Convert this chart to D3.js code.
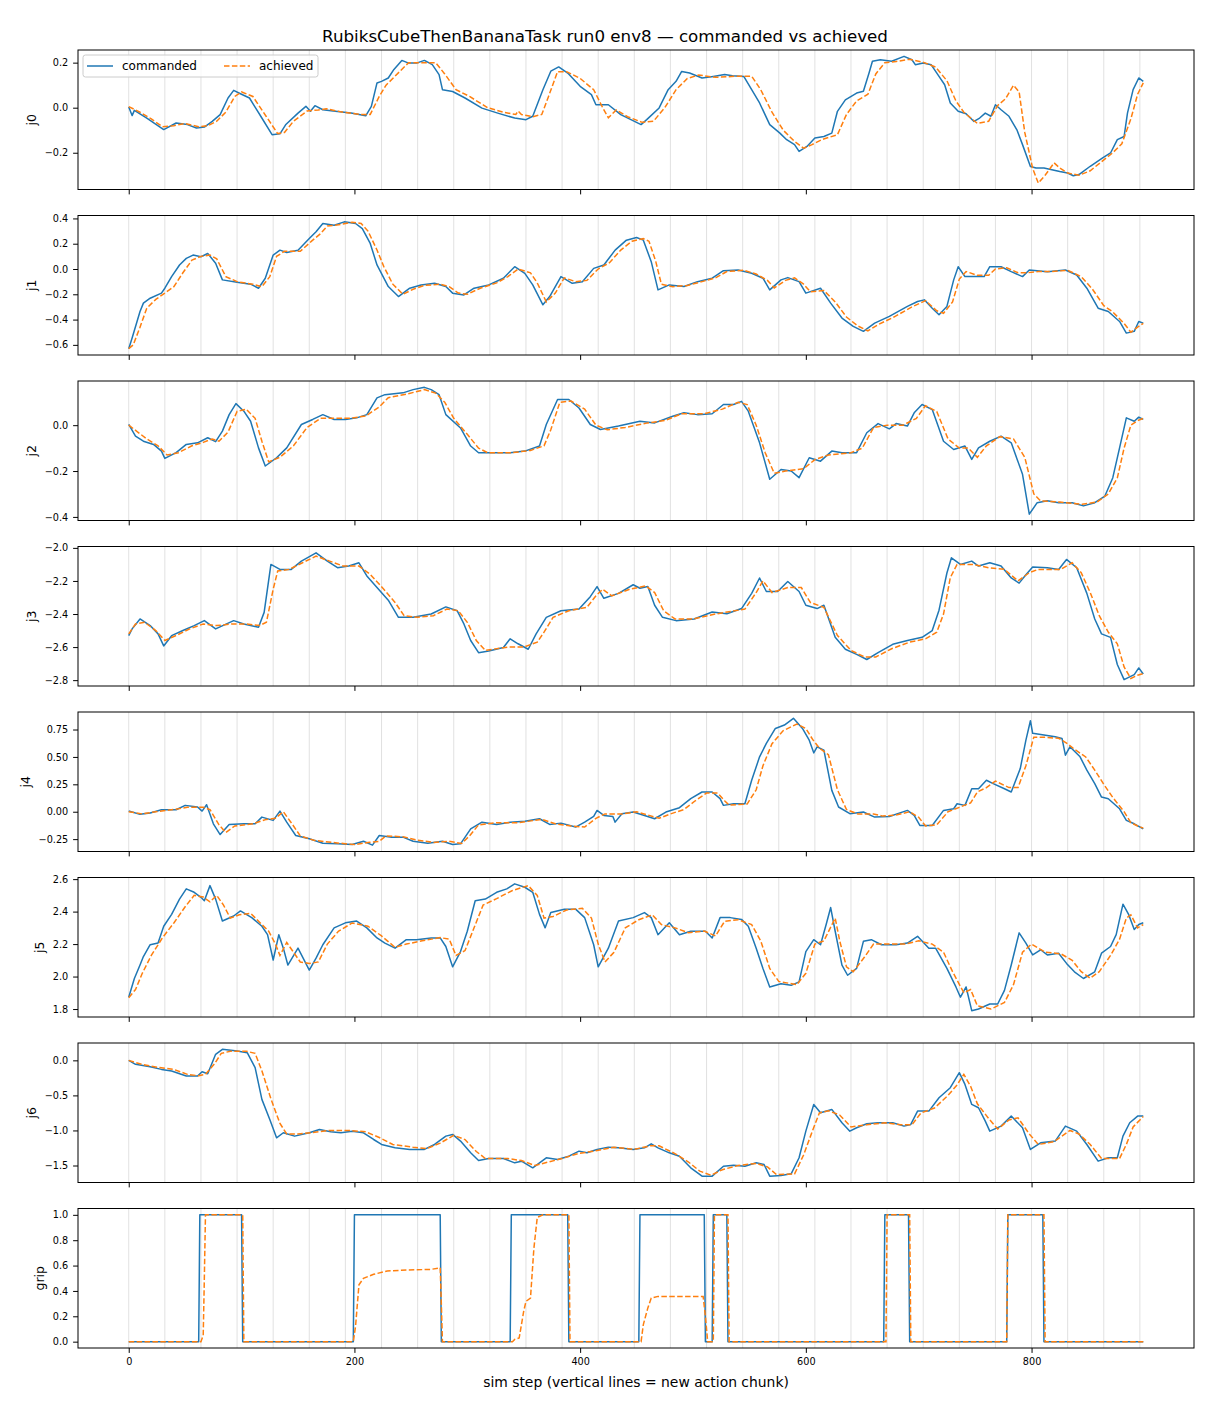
<!DOCTYPE html>
<html>
<head>
<meta charset="utf-8">
<script src="https://cdn.jsdelivr.net/npm/d3@7"></script>
<style>
  body { margin: 0; background: #fff; }
  text { font-family: "DejaVu Sans", sans-serif; }
</style>
</head>
<body>
<svg id="chart"></svg>
<script>
// values, [sim step, value]
const xTicks = [0, 200, 400, 600, 800]
const chunkStarts = [0,32,64,96,128,160,192,224,256,288,320,352,384,416,448,480,512,544,576,608,640,672,704,736,768,800,832,864,896]

const cmdJ0 = [[0,0.003],[3,-0.035],[5,-0.012],[16,-0.046],[31,-0.097],[42,-0.068],[52,-0.075],[60,-0.09],[67,-0.086],[74,-0.061],[81,-0.031],[88,0.043],[93,0.077],[99,0.062],[107,0.043],[117,-0.038],[127,-0.12],[134,-0.116],[139,-0.076],[150,-0.024],[157,0.006],[161,-0.016],[165,0.009],[172,-0.009],[183,-0.016],[197,-0.024],[210,-0.036],[215,0.006],[220,0.11],[224,0.117],[230,0.132],[235,0.17],[242,0.21],[248,0.198],[255,0.198],[262,0.21],[269,0.191],[275,0.147],[278,0.08],[287,0.072],[298,0.043],[313,-0.002],[327,-0.024],[342,-0.046],[352,-0.053],[358,-0.038],[367,0.08],[374,0.162],[381,0.181],[389,0.154],[400,0.095],[410,0.058],[414,0.013],[425,0.013],[436,-0.031],[454,-0.075],[459,-0.053],[470,-0.001],[478,0.08],[485,0.117],[490,0.161],[497,0.154],[508,0.132],[518,0.139],[528,0.147],[535,0.142],[545,0.139],[552,0.08],[559,0.021],[568,-0.075],[577,-0.113],[583,-0.142],[590,-0.164],[594,-0.194],[601,-0.172],[608,-0.135],[616,-0.128],[623,-0.113],[628,-0.016],[635,0.035],[645,0.065],[651,0.073],[656,0.154],[659,0.206],[666,0.213],[676,0.206],[687,0.228],[694,0.213],[697,0.191],[704,0.198],[711,0.191],[718,0.139],[723,0.102],[728,0.021],[735,-0.016],[742,-0.027],[749,-0.061],[754,-0.046],[759,-0.024],[764,-0.038],[768,0.013],[773,-0.009],[780,-0.038],[787,-0.098],[792,-0.164],[799,-0.261],[804,-0.268],[811,-0.268],[818,-0.275],[825,-0.283],[832,-0.29],[837,-0.302],[842,-0.297],[852,-0.26],[863,-0.223],[870,-0.201],[876,-0.142],[882,-0.128],[885,-0.024],[890,0.08],[895,0.132],[899,0.117]]
const achJ0 = [[0,0.005],[10,-0.02],[20,-0.05],[30,-0.085],[40,-0.08],[50,-0.07],[62,-0.085],[70,-0.08],[78,-0.06],[86,-0.02],[94,0.05],[100,0.07],[110,0.05],[122,-0.04],[132,-0.115],[138,-0.11],[146,-0.06],[158,-0.015],[168,-0.01],[175,-0.005],[190,-0.02],[205,-0.03],[214,-0.03],[222,0.05],[228,0.1],[240,0.16],[248,0.2],[262,0.2],[272,0.2],[280,0.15],[290,0.08],[302,0.05],[318,0.0],[332,-0.02],[343,-0.03],[345,-0.015],[348,-0.03],[358,-0.04],[366,-0.03],[372,0.05],[380,0.16],[388,0.16],[400,0.13],[412,0.08],[420,0.0],[425,-0.045],[432,-0.01],[442,-0.04],[455,-0.065],[465,-0.06],[475,0.0],[485,0.08],[495,0.13],[505,0.145],[520,0.135],[540,0.14],[552,0.14],[560,0.08],[570,-0.02],[580,-0.1],[590,-0.15],[598,-0.18],[605,-0.165],[615,-0.14],[628,-0.12],[636,-0.03],[645,0.03],[655,0.06],[662,0.15],[670,0.2],[680,0.205],[692,0.215],[705,0.2],[715,0.18],[725,0.12],[733,0.03],[740,-0.02],[752,-0.07],[762,-0.06],[770,0.01],[777,0.04],[784,0.1],[789,0.07],[794,-0.11],[801,-0.27],[806,-0.335],[812,-0.3],[820,-0.245],[825,-0.268],[832,-0.29],[842,-0.3],[852,-0.28],[862,-0.24],[872,-0.2],[880,-0.16],[888,-0.05],[894,0.06],[899,0.11]]
const ticksJ0 = [-0.2, 0.0, 0.2]

const cmdJ1 = [[0,-0.63],[3,-0.546],[10,-0.336],[13,-0.27],[19,-0.231],[29,-0.191],[32,-0.152],[38,-0.06],[45,0.032],[51,0.084],[57,0.11],[64,0.097],[70,0.123],[77,0.045],[83,-0.086],[96,-0.105],[108,-0.12],[115,-0.152],[121,-0.073],[128,0.11],[134,0.149],[140,0.131],[150,0.149],[160,0.241],[166,0.294],[172,0.36],[182,0.346],[191,0.373],[201,0.36],[207,0.32],[214,0.202],[220,0.032],[230,-0.139],[239,-0.218],[249,-0.152],[259,-0.126],[271,-0.113],[281,-0.139],[287,-0.191],[297,-0.205],[306,-0.152],[319,-0.126],[332,-0.073],[342,0.018],[351,-0.034],[358,-0.126],[367,-0.283],[373,-0.218],[383,-0.06],[393,-0.113],[402,-0.1],[412,0.005],[421,0.032],[431,0.149],[441,0.228],[450,0.249],[456,0.228],[463,0.058],[469,-0.165],[479,-0.126],[492,-0.139],[504,-0.1],[517,-0.073],[527,-0.013],[540,-0.008],[552,-0.034],[562,-0.073],[568,-0.165],[578,-0.086],[584,-0.068],[594,-0.1],[600,-0.191],[613,-0.152],[622,-0.27],[632,-0.388],[642,-0.454],[651,-0.493],[661,-0.428],[674,-0.375],[690,-0.296],[699,-0.257],[705,-0.244],[712,-0.31],[718,-0.362],[725,-0.296],[731,-0.086],[735,0.018],[741,-0.06],[750,-0.06],[758,-0.06],[763,0.018],[773,0.018],[782,-0.021],[792,-0.06],[798,-0.008],[814,-0.021],[830,-0.008],[840,-0.047],[849,-0.152],[859,-0.31],[868,-0.336],[878,-0.415],[884,-0.507],[891,-0.493],[895,-0.415],[899,-0.428]]
const achJ1 = [[0,-0.63],[4,-0.6],[10,-0.46],[16,-0.31],[24,-0.24],[32,-0.19],[40,-0.14],[48,-0.03],[56,0.07],[64,0.1],[72,0.11],[78,0.08],[86,-0.06],[96,-0.1],[110,-0.12],[118,-0.14],[125,-0.06],[131,0.1],[138,0.14],[152,0.14],[162,0.22],[170,0.28],[176,0.34],[186,0.35],[198,0.37],[206,0.36],[212,0.3],[220,0.15],[226,0.02],[234,-0.12],[243,-0.2],[252,-0.16],[262,-0.13],[276,-0.12],[284,-0.14],[292,-0.19],[300,-0.2],[312,-0.15],[326,-0.11],[336,-0.06],[345,0.0],[356,-0.03],[362,-0.11],[370,-0.26],[378,-0.19],[386,-0.07],[396,-0.1],[406,-0.09],[416,0.0],[426,0.05],[436,0.15],[446,0.22],[456,0.24],[461,0.22],[467,0.06],[472,-0.12],[482,-0.14],[495,-0.13],[508,-0.1],[520,-0.07],[530,-0.02],[545,-0.01],[556,-0.04],[566,-0.09],[572,-0.15],[582,-0.09],[590,-0.07],[598,-0.12],[604,-0.18],[616,-0.17],[626,-0.26],[636,-0.38],[646,-0.45],[655,-0.49],[664,-0.44],[678,-0.38],[694,-0.3],[706,-0.25],[716,-0.33],[722,-0.35],[730,-0.26],[736,-0.08],[742,-0.02],[752,-0.05],[762,-0.05],[768,0.0],[778,0.01],[788,-0.03],[796,-0.03],[806,-0.02],[818,-0.02],[832,-0.01],[844,-0.06],[854,-0.16],[864,-0.29],[872,-0.34],[882,-0.43],[888,-0.5],[894,-0.46],[899,-0.43]]
const ticksJ1 = [-0.6, -0.4, -0.2, 0.0, 0.2, 0.4]

const cmdJ2 = [[0,0.003],[6,-0.048],[13,-0.07],[22,-0.084],[29,-0.113],[32,-0.145],[42,-0.12],[51,-0.084],[61,-0.077],[70,-0.055],[77,-0.072],[83,-0.026],[89,0.046],[95,0.094],[102,0.061],[108,0.017],[115,-0.099],[121,-0.178],[131,-0.142],[140,-0.099],[153,0.003],[163,0.025],[172,0.046],[182,0.025],[192,0.025],[202,0.032],[211,0.046],[220,0.119],[227,0.133],[243,0.141],[252,0.155],[262,0.165],[268,0.155],[275,0.133],[281,0.046],[294,-0.012],[303,-0.091],[310,-0.12],[322,-0.12],[338,-0.12],[351,-0.113],[364,-0.091],[370,0.003],[380,0.112],[390,0.112],[399,0.075],[409,0.003],[418,-0.019],[434,-0.004],[453,0.017],[466,0.01],[482,0.039],[492,0.054],[504,0.046],[517,0.05],[527,0.09],[536,0.09],[543,0.104],[549,0.061],[559,-0.077],[568,-0.236],[578,-0.193],[587,-0.2],[594,-0.229],[603,-0.142],[613,-0.157],[623,-0.113],[632,-0.12],[645,-0.12],[654,-0.033],[664,0.007],[674,-0.016],[680,0.007],[690,-0.004],[696,0.054],[703,0.09],[712,0.068],[722,-0.07],[731,-0.106],[741,-0.091],[747,-0.149],[753,-0.099],[763,-0.07],[773,-0.048],[782,-0.077],[792,-0.214],[798,-0.388],[805,-0.338],[814,-0.33],[824,-0.338],[836,-0.338],[846,-0.352],[856,-0.338],[865,-0.309],[872,-0.229],[878,-0.099],[884,0.032],[891,0.017],[895,0.035],[899,0.025]]
const achJ2 = [[0,0.0],[8,-0.03],[16,-0.06],[26,-0.09],[34,-0.13],[44,-0.12],[56,-0.09],[66,-0.075],[74,-0.06],[80,-0.07],[88,-0.03],[96,0.06],[104,0.07],[112,0.03],[118,-0.07],[124,-0.16],[134,-0.14],[146,-0.09],[158,-0.01],[170,0.03],[182,0.03],[196,0.03],[210,0.04],[222,0.08],[230,0.12],[246,0.135],[262,0.155],[272,0.14],[280,0.1],[288,0.03],[300,-0.04],[310,-0.1],[318,-0.12],[340,-0.12],[356,-0.11],[368,-0.09],[374,-0.02],[382,0.1],[392,0.105],[404,0.07],[414,0.0],[424,-0.02],[440,-0.01],[460,0.01],[475,0.02],[490,0.05],[510,0.05],[526,0.07],[540,0.1],[548,0.09],[556,0.0],[564,-0.12],[572,-0.21],[582,-0.2],[598,-0.19],[608,-0.15],[620,-0.13],[640,-0.12],[650,-0.1],[660,-0.01],[672,0.0],[686,0.0],[698,0.03],[706,0.085],[716,0.06],[726,-0.06],[736,-0.1],[744,-0.1],[752,-0.14],[760,-0.09],[772,-0.05],[784,-0.06],[794,-0.14],[802,-0.3],[808,-0.33],[825,-0.335],[845,-0.345],[858,-0.335],[868,-0.3],[876,-0.23],[882,-0.1],[888,0.0],[894,0.02],[899,0.03]]
const ticksJ2 = [-0.4, -0.2, 0.0]

const cmdJ3 = [[0,-2.531],[3,-2.49],[10,-2.43],[19,-2.47],[26,-2.52],[31,-2.593],[38,-2.531],[48,-2.5],[58,-2.47],[67,-2.44],[77,-2.49],[93,-2.44],[102,-2.46],[115,-2.48],[120,-2.39],[126,-2.1],[134,-2.13],[144,-2.13],[153,-2.08],[166,-2.03],[176,-2.08],[185,-2.12],[195,-2.11],[204,-2.09],[211,-2.17],[220,-2.24],[230,-2.316],[239,-2.42],[252,-2.42],[268,-2.4],[281,-2.357],[291,-2.38],[297,-2.46],[303,-2.56],[310,-2.634],[319,-2.624],[332,-2.603],[338,-2.55],[345,-2.58],[354,-2.613],[361,-2.52],[370,-2.42],[383,-2.38],[399,-2.37],[409,-2.295],[415,-2.234],[421,-2.305],[434,-2.275],[447,-2.223],[453,-2.244],[460,-2.234],[466,-2.347],[473,-2.42],[485,-2.44],[501,-2.43],[517,-2.388],[530,-2.398],[543,-2.367],[552,-2.275],[559,-2.182],[565,-2.264],[575,-2.264],[584,-2.203],[594,-2.264],[600,-2.347],[610,-2.367],[616,-2.347],[626,-2.541],[635,-2.613],[645,-2.644],[654,-2.675],[664,-2.634],[677,-2.583],[690,-2.56],[703,-2.541],[712,-2.5],[718,-2.377],[725,-2.152],[729,-2.06],[737,-2.1],[747,-2.08],[753,-2.11],[763,-2.09],[773,-2.11],[782,-2.182],[789,-2.213],[795,-2.162],[801,-2.115],[814,-2.12],[824,-2.131],[831,-2.07],[840,-2.12],[849,-2.275],[856,-2.43],[862,-2.52],[870,-2.541],[876,-2.705],[882,-2.797],[891,-2.767],[895,-2.726],[899,-2.763]]
const achJ3 = [[0,-2.52],[6,-2.46],[14,-2.45],[24,-2.5],[32,-2.56],[42,-2.53],[54,-2.49],[66,-2.46],[78,-2.47],[92,-2.46],[104,-2.46],[116,-2.47],[122,-2.45],[128,-2.25],[132,-2.14],[142,-2.13],[154,-2.09],[166,-2.05],[178,-2.08],[190,-2.11],[204,-2.11],[214,-2.16],[226,-2.25],[236,-2.33],[244,-2.41],[256,-2.42],[270,-2.41],[282,-2.37],[292,-2.38],[300,-2.45],[308,-2.56],[316,-2.62],[336,-2.6],[350,-2.6],[362,-2.57],[368,-2.51],[376,-2.42],[390,-2.38],[406,-2.36],[414,-2.29],[420,-2.25],[428,-2.29],[444,-2.25],[458,-2.23],[466,-2.27],[474,-2.38],[484,-2.43],[500,-2.43],[520,-2.4],[546,-2.37],[556,-2.27],[562,-2.2],[570,-2.27],[584,-2.24],[596,-2.24],[604,-2.33],[616,-2.36],[628,-2.53],[640,-2.62],[652,-2.66],[662,-2.66],[676,-2.61],[692,-2.57],[706,-2.55],[716,-2.51],[722,-2.4],[728,-2.18],[734,-2.1],[748,-2.1],[762,-2.12],[776,-2.13],[788,-2.2],[798,-2.15],[806,-2.13],[826,-2.13],[836,-2.09],[844,-2.15],[852,-2.27],[860,-2.41],[868,-2.51],[876,-2.58],[882,-2.72],[888,-2.79],[894,-2.77],[899,-2.76]]
const ticksJ3 = [-2.8, -2.6, -2.4, -2.2, -2.0]

const cmdJ4 = [[0,0.006],[10,-0.024],[19,-0.012],[29,0.018],[42,0.018],[50,0.058],[61,0.043],[65,0.006],[69,0.064],[75,-0.11],[81,-0.208],[89,-0.116],[102,-0.11],[112,-0.11],[118,-0.049],[128,-0.079],[134,0.006],[140,-0.095],[148,-0.217],[160,-0.247],[172,-0.287],[185,-0.293],[198,-0.299],[208,-0.269],[216,-0.305],[222,-0.217],[233,-0.232],[243,-0.232],[252,-0.269],[265,-0.287],[278,-0.269],[287,-0.299],[294,-0.293],[303,-0.156],[313,-0.095],[326,-0.116],[338,-0.095],[351,-0.086],[364,-0.064],[373,-0.116],[383,-0.104],[396,-0.14],[404,-0.095],[412,-0.043],[415,0.012],[421,-0.034],[429,-0.043],[431,-0.095],[437,-0.018],[447,-0.003],[457,-0.034],[466,-0.064],[476,-0.003],[488,0.037],[498,0.119],[508,0.18],[517,0.18],[524,0.119],[527,0.058],[536,0.073],[546,0.073],[552,0.287],[559,0.501],[565,0.623],[573,0.76],[581,0.791],[589,0.852],[597,0.76],[603,0.653],[607,0.537],[610,0.592],[616,0.562],[623,0.195],[629,0.043],[639,-0.018],[651,-0.003],[661,-0.049],[674,-0.043],[690,0.012],[696,-0.034],[701,-0.125],[712,-0.125],[722,0.012],[731,0.027],[734,0.073],[741,0.058],[747,0.21],[753,0.21],[760,0.287],[766,0.256],[776,0.21],[782,0.18],[790,0.394],[795,0.653],[799,0.83],[801,0.715],[811,0.699],[821,0.684],[827,0.669],[830,0.516],[834,0.592],[843,0.501],[849,0.379],[856,0.256],[862,0.134],[868,0.119],[878,0.027],[884,-0.079],[891,-0.11],[899,-0.156]]
const achJ4 = [[0,0.0],[12,-0.02],[24,0.0],[40,0.02],[52,0.04],[66,0.04],[72,0.02],[80,-0.12],[86,-0.19],[94,-0.13],[110,-0.11],[122,-0.07],[130,-0.06],[137,0.0],[144,-0.1],[152,-0.22],[164,-0.26],[180,-0.28],[200,-0.3],[212,-0.28],[222,-0.27],[228,-0.22],[244,-0.23],[256,-0.26],[270,-0.28],[284,-0.27],[295,-0.29],[302,-0.22],[310,-0.12],[325,-0.1],[345,-0.1],[366,-0.07],[378,-0.11],[392,-0.13],[404,-0.14],[414,-0.06],[422,-0.02],[438,-0.02],[450,0.0],[460,-0.03],[470,-0.06],[480,-0.02],[492,0.02],[502,0.1],[512,0.17],[522,0.17],[528,0.1],[532,0.06],[548,0.07],[556,0.2],[562,0.42],[570,0.62],[580,0.74],[592,0.8],[600,0.76],[606,0.66],[612,0.58],[620,0.52],[628,0.2],[636,0.02],[646,-0.02],[660,-0.02],[668,-0.04],[680,-0.03],[692,0.0],[700,-0.05],[706,-0.13],[716,-0.12],[726,0.0],[736,0.04],[746,0.08],[752,0.18],[760,0.22],[768,0.28],[780,0.22],[788,0.22],[795,0.42],[802,0.68],[810,0.68],[824,0.67],[832,0.62],[838,0.57],[848,0.5],[856,0.38],[864,0.25],[872,0.13],[882,0.0],[888,-0.1],[894,-0.13],[899,-0.15]]
const ticksJ4 = [-0.25, 0.0, 0.25, 0.5, 0.75]

const cmdJ5 = [[0,1.873],[5,1.988],[10,2.071],[13,2.123],[19,2.196],[26,2.206],[31,2.31],[38,2.383],[45,2.477],[51,2.54],[58,2.519],[64,2.488],[67,2.467],[72,2.56],[77,2.477],[83,2.342],[93,2.373],[99,2.404],[109,2.363],[118,2.31],[123,2.258],[128,2.102],[133,2.258],[137,2.175],[141,2.071],[150,2.175],[160,2.04],[166,2.113],[172,2.196],[182,2.3],[192,2.331],[202,2.342],[211,2.3],[220,2.238],[227,2.206],[236,2.175],[246,2.227],[255,2.227],[268,2.238],[276,2.238],[281,2.185],[287,2.06],[294,2.154],[300,2.279],[307,2.467],[316,2.477],[326,2.519],[335,2.54],[342,2.571],[351,2.55],[358,2.519],[364,2.383],[369,2.3],[374,2.394],[386,2.415],[396,2.415],[404,2.363],[412,2.196],[416,2.06],[425,2.175],[434,2.342],[447,2.363],[457,2.394],[463,2.363],[469,2.258],[479,2.331],[488,2.258],[498,2.279],[511,2.279],[517,2.238],[524,2.363],[533,2.363],[543,2.352],[549,2.31],[556,2.175],[562,2.05],[568,1.936],[578,1.956],[587,1.946],[594,1.967],[600,2.154],[607,2.227],[613,2.196],[618,2.321],[622,2.425],[626,2.279],[632,2.071],[637,2.008],[645,2.05],[651,2.217],[658,2.227],[667,2.196],[680,2.196],[690,2.206],[699,2.248],[709,2.175],[715,2.175],[725,2.05],[733,1.936],[737,1.873],[742,1.936],[747,1.79],[753,1.8],[763,1.831],[770,1.831],[776,1.915],[782,2.071],[789,2.269],[795,2.206],[801,2.133],[808,2.165],[814,2.133],[824,2.144],[831,2.081],[838,2.029],[846,1.988],[856,2.029],[862,2.144],[870,2.185],[875,2.258],[881,2.446],[886,2.383],[891,2.29],[895,2.321],[899,2.331]]
const achJ5 = [[0,1.87],[6,1.92],[12,2.02],[20,2.13],[30,2.24],[40,2.33],[50,2.43],[58,2.5],[66,2.49],[72,2.46],[78,2.5],[84,2.44],[90,2.36],[98,2.38],[108,2.39],[118,2.32],[124,2.28],[130,2.2],[134,2.13],[140,2.21],[146,2.15],[152,2.09],[160,2.08],[168,2.09],[176,2.2],[186,2.28],[198,2.33],[212,2.31],[224,2.25],[236,2.18],[246,2.2],[260,2.22],[276,2.24],[284,2.23],[290,2.13],[298,2.16],[306,2.3],[314,2.44],[326,2.48],[340,2.53],[354,2.56],[362,2.5],[368,2.36],[376,2.37],[388,2.41],[402,2.42],[410,2.36],[416,2.2],[422,2.09],[430,2.15],[440,2.3],[452,2.35],[464,2.38],[472,2.32],[484,2.3],[496,2.27],[510,2.28],[520,2.25],[528,2.34],[540,2.35],[552,2.32],[560,2.22],[568,2.05],[576,1.97],[592,1.95],[600,2.02],[608,2.2],[616,2.22],[626,2.36],[630,2.22],[636,2.06],[642,2.03],[652,2.12],[660,2.2],[672,2.2],[688,2.2],[700,2.22],[712,2.2],[722,2.15],[730,2.03],[740,1.9],[746,1.92],[752,1.82],[764,1.8],[776,1.84],[784,1.95],[792,2.15],[800,2.2],[812,2.15],[826,2.14],[836,2.1],[844,2.03],[852,1.99],[860,2.03],[870,2.13],[878,2.23],[884,2.36],[888,2.38],[894,2.3],[899,2.32]]
const ticksJ5 = [1.8, 2.0, 2.2, 2.4, 2.6]

const cmdJ6 = [[0,0.0],[6,-0.057],[19,-0.09],[29,-0.129],[38,-0.152],[51,-0.224],[61,-0.224],[65,-0.162],[70,-0.19],[77,0.086],[83,0.157],[96,0.133],[105,0.11],[112,-0.105],[118,-0.557],[125,-0.843],[131,-1.105],[137,-1.033],[147,-1.081],[160,-1.033],[169,-0.986],[179,-1.019],[188,-1.033],[198,-1.01],[208,-1.033],[217,-1.129],[224,-1.2],[236,-1.248],[249,-1.271],[262,-1.271],[271,-1.2],[281,-1.081],[287,-1.057],[294,-1.152],[303,-1.319],[310,-1.429],[319,-1.4],[332,-1.4],[342,-1.462],[348,-1.438],[358,-1.533],[370,-1.39],[380,-1.414],[390,-1.367],[399,-1.295],[406,-1.319],[415,-1.271],[425,-1.238],[434,-1.248],[447,-1.271],[457,-1.248],[463,-1.19],[469,-1.248],[479,-1.319],[488,-1.367],[498,-1.533],[508,-1.652],[517,-1.652],[527,-1.51],[536,-1.495],[546,-1.51],[556,-1.462],[563,-1.486],[568,-1.652],[578,-1.643],[587,-1.619],[594,-1.39],[600,-1.01],[607,-0.629],[613,-0.748],[623,-0.7],[632,-0.89],[639,-1.01],[645,-0.962],[654,-0.905],[664,-0.89],[677,-0.89],[687,-0.938],[693,-0.914],[699,-0.724],[709,-0.724],[718,-0.533],[728,-0.39],[736,-0.176],[741,-0.343],[747,-0.629],[753,-0.676],[759,-0.867],[763,-1.01],[773,-0.938],[782,-0.795],[792,-0.962],[799,-1.271],[808,-1.176],[821,-1.152],[830,-0.938],[840,-1.01],[849,-1.2],[859,-1.438],[868,-1.39],[876,-1.39],[881,-1.081],[887,-0.89],[894,-0.795],[899,-0.795]]
const achJ6 = [[0,0.0],[12,-0.06],[26,-0.1],[40,-0.13],[52,-0.2],[62,-0.22],[68,-0.2],[76,-0.05],[82,0.1],[90,0.13],[104,0.13],[112,0.1],[118,-0.15],[126,-0.55],[134,-0.9],[140,-1.05],[150,-1.05],[162,-1.03],[178,-1.0],[196,-1.0],[210,-1.02],[222,-1.1],[234,-1.2],[252,-1.24],[264,-1.26],[276,-1.18],[288,-1.07],[298,-1.13],[308,-1.3],[316,-1.4],[336,-1.4],[348,-1.43],[360,-1.5],[372,-1.45],[384,-1.4],[398,-1.33],[414,-1.29],[430,-1.24],[448,-1.27],[462,-1.22],[470,-1.22],[484,-1.33],[496,-1.45],[506,-1.58],[516,-1.64],[526,-1.56],[540,-1.5],[556,-1.47],[566,-1.52],[574,-1.63],[590,-1.62],[598,-1.35],[606,-1.0],[612,-0.75],[620,-0.72],[630,-0.78],[640,-0.95],[654,-0.92],[670,-0.89],[684,-0.92],[694,-0.92],[702,-0.75],[714,-0.68],[726,-0.5],[734,-0.35],[740,-0.2],[746,-0.37],[752,-0.62],[762,-0.83],[770,-0.98],[780,-0.85],[788,-0.82],[798,-1.05],[806,-1.2],[820,-1.16],[834,-1.0],[842,-1.05],[852,-1.2],[862,-1.4],[878,-1.4],[884,-1.2],[890,-0.95],[899,-0.8]]
const ticksJ6 = [-1.5, -1.0, -0.5, 0.0]

const cmdGrip = [[0,0],[62,0],[63,1],[100,1],[101,0],[199,0],[200,1],[276,1],[277,0],[338,0],[339,1],[389,1],[390,0],[452,0],[453,1],[510,1],[511,0],[517,0],[518,1],[530,1],[531,0],[669,0],[670,1],[691,1],[692,0],[778,0],[779,1],[810,1],[811,0],[899,0]]
const achGrip = [[0,0],[64,0],[66,0.05],[67,0.5],[68,1],[101,1],[102,0],[199,0],[201,0.122],[204,0.448],[208,0.5],[217,0.531],[229,0.557],[248,0.565],[268,0.57],[276,0.583],[277,0.3],[278,0],[340,0],[342,0.018],[346,0.03],[350,0.24],[352,0.318],[356,0.344],[359,0.734],[362,0.98],[367,1],[390,1],[391,0],[454,0],[456,0.135],[460,0.266],[463,0.344],[469,0.357],[509,0.357],[511,0.2],[513,0],[518,0],[519,1],[531,1],[532,0],[671,0],[672,1],[692,1],[693,0],[778,0],[779,1],[811,1],[812,0],[899,0]]
const ticksGrip = [0.0, 0.2, 0.4, 0.6, 0.8, 1.0]

const panels = [
  {label: 'j0', cmd: cmdJ0, ach: achJ0, ticks: ticksJ0},
  {label: 'j1', cmd: cmdJ1, ach: achJ1, ticks: ticksJ1},
  {label: 'j2', cmd: cmdJ2, ach: achJ2, ticks: ticksJ2},
  {label: 'j3', cmd: cmdJ3, ach: achJ3, ticks: ticksJ3},
  {label: 'j4', cmd: cmdJ4, ach: achJ4, ticks: ticksJ4},
  {label: 'j5', cmd: cmdJ5, ach: achJ5, ticks: ticksJ5},
  {label: 'j6', cmd: cmdJ6, ach: achJ6, ticks: ticksJ6},
  {label: 'grip', cmd: cmdGrip, ach: achGrip, ticks: ticksGrip}
]

const W = 1210, H = 1408
const left = 78, right = 1194
const top0 = 50, rowStep = 165.5, rowH = 139.5
const blue = '#1f77b4', orange = '#ff7f0e'

const svg = d3.select('#chart')
  .attr('width', W)
  .attr('height', H)

svg.append('rect').attr('width', W).attr('height', H).attr('fill', '#fff')

// figure title, centred on the figure
svg.append('text')
  .attr('x', W / 2)
  .attr('y', 42)
  .attr('text-anchor', 'middle')
  .style('font-size', '16.7px')
  .text('RubiksCubeThenBananaTask run0 env8 — commanded vs achieved')

// shared x scale, 5% margin like matplotlib
const allSteps = panels.flatMap(p => p.cmd.concat(p.ach).map(d => d[0]))
const [sMin, sMax] = d3.extent(allSteps)
const sPad = (sMax - sMin) * 0.05
const x = d3.scaleLinear().domain([sMin - sPad, sMax + sPad]).range([left, right])

panels.forEach((p, i) => {
  const top = top0 + i * rowStep
  const g = svg.append('g')

  const [vMin, vMax] = d3.extent(p.cmd.concat(p.ach), d => d[1])
  const vPad = (vMax - vMin) * 0.05
  const y = d3.scaleLinear().domain([vMin - vPad, vMax + vPad]).range([top + rowH, top])

  // new action chunk markers
  g.selectAll('line.chunk')
    .data(chunkStarts)
    .join('line')
    .attr('class', 'chunk')
    .attr('x1', d => x(d)).attr('x2', d => x(d))
    .attr('y1', top).attr('y2', top + rowH)
    .attr('stroke', '#dedede')
    .attr('stroke-width', 0.9)

  const line = d3.line().x(d => x(d[0])).y(d => y(d[1]))

  g.append('path')
    .datum(p.cmd)
    .attr('d', line)
    .attr('fill', 'none')
    .attr('stroke', blue)
    .attr('stroke-width', 1.5)
    .attr('stroke-linejoin', 'round')

  g.append('path')
    .datum(p.ach)
    .attr('d', line)
    .attr('fill', 'none')
    .attr('stroke', orange)
    .attr('stroke-width', 1.5)
    .attr('stroke-dasharray', '5.5,2.4')

  // frame
  g.append('rect')
    .attr('x', left).attr('y', top)
    .attr('width', right - left).attr('height', rowH)
    .attr('fill', 'none')
    .attr('stroke', '#000')
    .attr('stroke-width', 1)

  // y axis
  const decimals = d3.max(p.ticks, t => (Math.round(t * 100) % 10 !== 0) ? 2 : 1)
  const yAxis = g.append('g')
    .attr('transform', `translate(${left},0)`)
    .call(d3.axisLeft(y).tickValues(p.ticks).tickFormat(d3.format(`.${decimals}f`)).tickSize(4.9).tickPadding(4.9))
  yAxis.select('.domain').remove()
  yAxis.selectAll('text').style('font-size', '9.7px').attr('fill', '#000')
  yAxis.selectAll('line').attr('stroke', '#000')

  // x axis (labels only on the bottom panel)
  const last = i === panels.length - 1
  const xAxis = g.append('g')
    .attr('transform', `translate(0,${top + rowH})`)
    .call(d3.axisBottom(x).tickValues(xTicks).tickFormat(last ? d3.format('d') : '').tickSize(4.9).tickPadding(4.9))
  xAxis.select('.domain').remove()
  xAxis.selectAll('text').style('font-size', '9.7px').attr('fill', '#000')
  xAxis.selectAll('line').attr('stroke', '#000')

  // bbox is in the axis group's own coordinates, so add the offset back
  const bb = yAxis.node().getBBox()
  svg.append('text')
    .attr('transform', `translate(${left + bb.x - 9},${top + rowH / 2}) rotate(-90)`)
    .attr('text-anchor', 'middle')
    .style('font-size', '12.5px')
    .text(p.label)
})

// x label
svg.append('text')
  .attr('x', (left + right) / 2)
  .attr('y', 1387)
  .attr('text-anchor', 'middle')
  .style('font-size', '13.9px')
  .text('sim step (vertical lines = new action chunk)')

// legend in first panel
const lg = svg.append('g').attr('transform', `translate(83,55)`)
lg.append('rect')
  .attr('width', 235).attr('height', 22)
  .attr('rx', 2.5)
  .attr('fill', 'rgba(255,255,255,0.8)')
  .attr('stroke', '#cccccc')
  .attr('stroke-width', 1)
const legendItems = [
  {name: 'commanded', color: blue, dash: null, x0: 4},
  {name: 'achieved', color: orange, dash: '5.5,2.4', x0: 141}
]
legendItems.forEach(it => {
  lg.append('line')
    .attr('x1', it.x0).attr('x2', it.x0 + 26)
    .attr('y1', 11).attr('y2', 11)
    .attr('stroke', it.color)
    .attr('stroke-width', 1.5)
    .attr('stroke-dasharray', it.dash)
  lg.append('text')
    .attr('x', it.x0 + 35).attr('y', 15.3)
    .style('font-size', '12px')
    .text(it.name)
})
</script>
</body>
</html>
